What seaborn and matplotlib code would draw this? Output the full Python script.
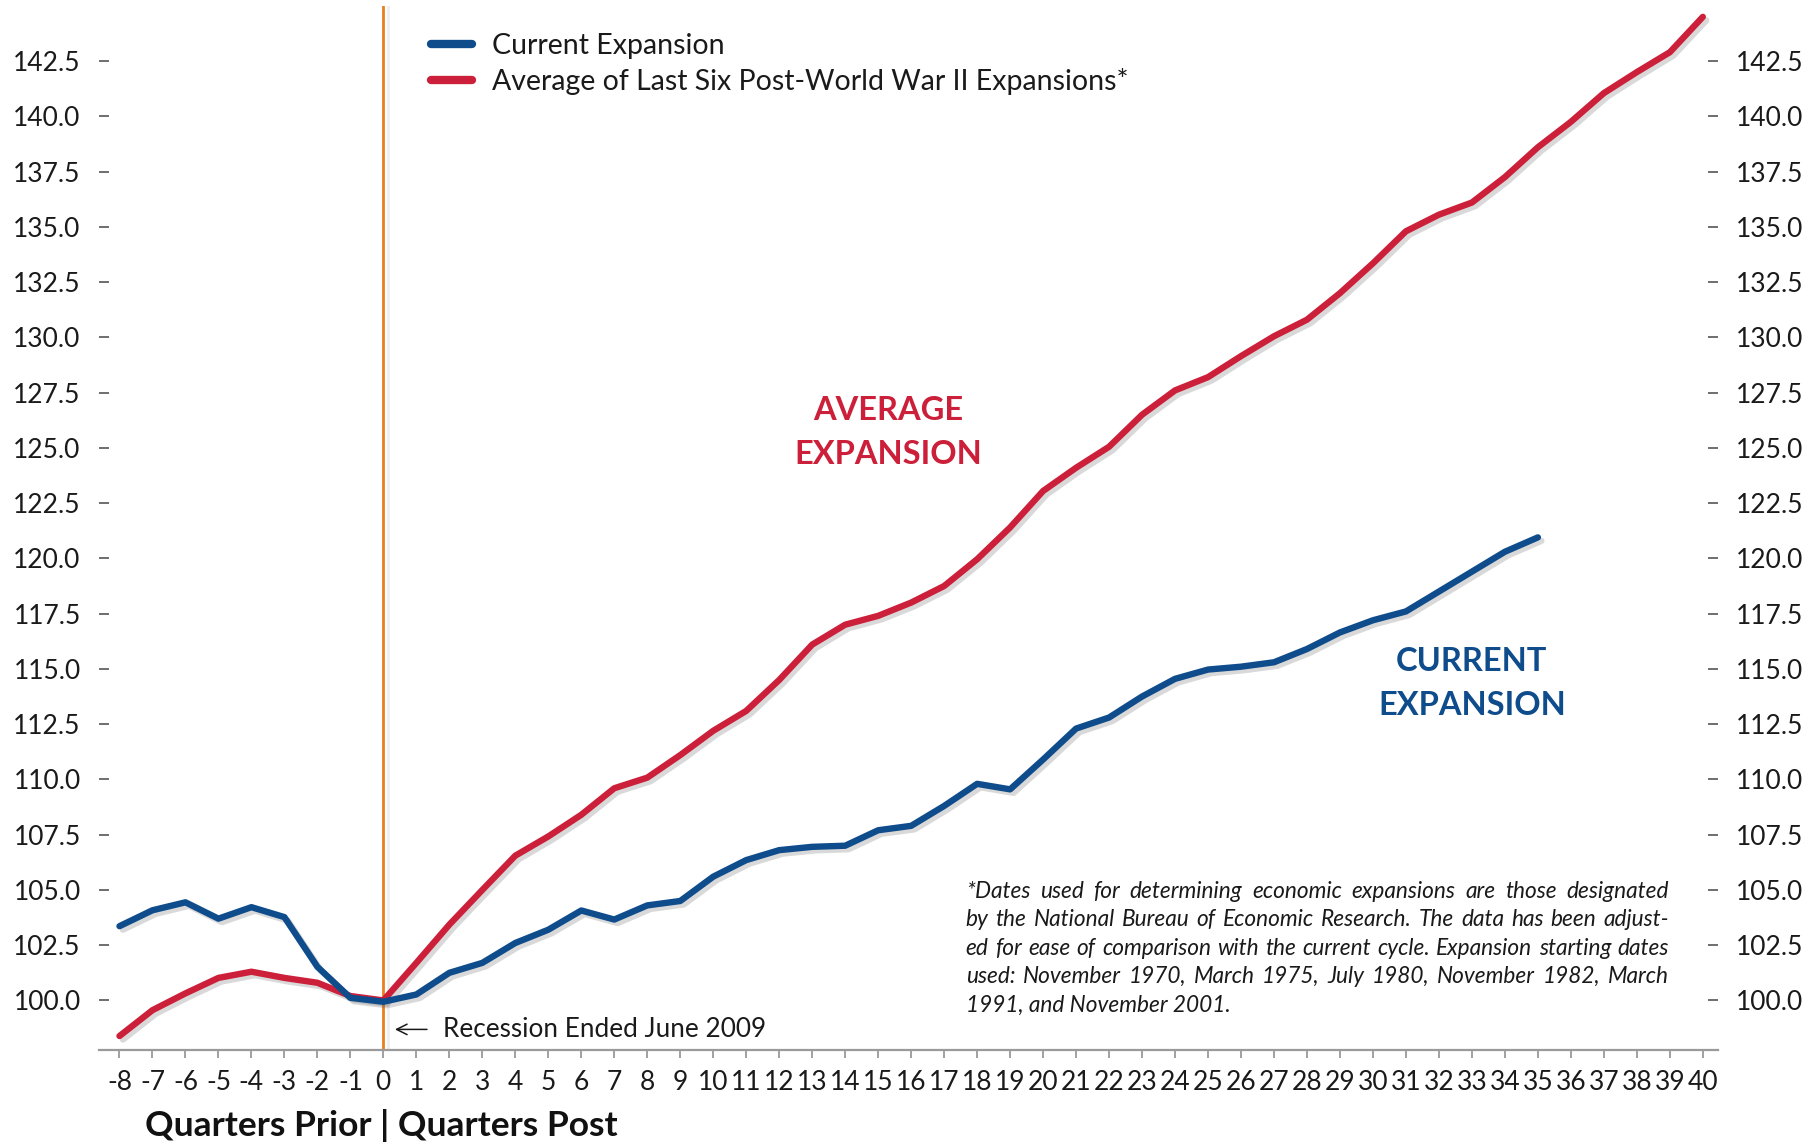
import matplotlib
matplotlib.use("Agg")
import matplotlib.pyplot as plt
import matplotlib.patheffects as pe
from matplotlib.lines import Line2D
import numpy as np
import pandas as pd
import seaborn as sns

# ---- data -------------------------------------------------------------
quarters = list(range(-8, 41))

current_expansion = [
    103.36, 104.08, 104.44, 103.70, 104.22, 103.77, 101.52, 100.12,   # -8 .. -1
    99.94, 100.27, 101.25, 101.70, 102.60, 103.20, 104.07, 103.66,    # 0 .. 7
    104.30, 104.50, 105.60, 106.35, 106.80, 106.95, 107.00, 107.70,   # 8 .. 15
    107.90, 108.80, 109.80, 109.55, 110.90, 112.30, 112.80, 113.75,   # 16 .. 23
    114.55, 114.97, 115.10, 115.30, 115.90, 116.65, 117.20, 117.60,   # 24 .. 31
    118.50, 119.40, 120.30, 120.95,                                   # 32 .. 35
]

average_expansion = [
    98.39, 99.56, 100.32, 101.02, 101.30, 101.02, 100.80, 100.20,     # -8 .. -1
    100.00, 101.70, 103.43, 105.00, 106.55, 107.42, 108.40, 109.60,   # 0 .. 7
    110.08, 111.10, 112.20, 113.10, 114.50, 116.10, 117.00, 117.40,   # 8 .. 15
    118.00, 118.75, 119.96, 121.40, 123.05, 124.10, 125.05, 126.50,   # 16 .. 23
    127.60, 128.20, 129.15, 130.05, 130.80, 132.00, 133.35, 134.80,   # 24 .. 31
    135.55, 136.10, 137.25, 138.60, 139.75, 141.05, 142.00, 142.90,   # 32 .. 39
    144.50,                                                           # 40
]

series_names = ["Current Expansion",
                "Average of Last Six Post-World War II Expansions*"]
y_ticks = [100.0, 102.5, 105.0, 107.5, 110.0, 112.5, 115.0, 117.5, 120.0,
           122.5, 125.0, 127.5, 130.0, 132.5, 135.0, 137.5, 140.0, 142.5]

footnote_lines = [
    "*Dates used for determining economic expansions are those designated",
    "by the National Bureau of Economic Research. The data has been adjust-",
    "ed for ease of comparison with the current cycle. Expansion starting dates",
    "used: November 1970, March 1975, July 1980, November 1982, March",
    "1991, and November 2001.",
]

BLUE = "#0f4c8c"
RED = "#cc1f3a"
ORANGE = "#e8801f"

# ---- long-form table ---------------------------------------------------
df = pd.concat([
    pd.DataFrame({"quarter": quarters[:len(current_expansion)],
                  "value": current_expansion, "series": series_names[0]}),
    pd.DataFrame({"quarter": quarters[:len(average_expansion)],
                  "value": average_expansion, "series": series_names[1]}),
], ignore_index=True)

sns.set_theme(style="white")
plt.rcParams["font.family"] = ["Lato", "DejaVu Sans"]

W, H, DPI = 1820, 1144, 100
fig = plt.figure(figsize=(W / DPI, H / DPI), dpi=DPI)
ax = fig.add_axes([98.7 / W, 93.6 / H, (1718 - 98.7) / W, (1144 - 93.6 - 5.8) / H])

shadow = [pe.SimpleLineShadow(offset=(2.5, -2.5), alpha=0.22, shadow_color="#555555"),
          pe.Normal()]

# orange marker for end of recession
ax.axvline(0, color=ORANGE, lw=2.0, zorder=1,
           path_effects=[pe.SimpleLineShadow(offset=(3, 0), alpha=0.12,
                                             shadow_color="#777777"), pe.Normal()])

sns.lineplot(data=df, x="quarter", y="value", hue="series",
             palette={series_names[0]: BLUE, series_names[1]: RED},
             hue_order=series_names[::-1], linewidth=4.6, legend=False,
             ax=ax, zorder=3)
for line in ax.get_lines()[1:]:
    line.set_path_effects(shadow)
    line.set_solid_capstyle("round")
    line.set_solid_joinstyle("round")

ax.set_xlim(-8.63, 40.46)
ax.set_ylim(97.74, 145.0)
ax.set_xticks(quarters)
ax.set_xticklabels([str(q) for q in quarters])
ax.set_yticks(y_ticks)
ax.set_yticklabels([f"{v:.1f}" for v in y_ticks])
ax.set_xlabel("")
ax.set_ylabel("")

for s in ["top", "left", "right"]:
    ax.spines[s].set_visible(False)
ax.spines["bottom"].set_color("#9a9a9a")
ax.spines["bottom"].set_linewidth(1.6)

ax.tick_params(axis="x", bottom=True, direction="out", length=6, width=1.3,
               color="#9a9a9a", labelsize=19, labelcolor="#1a1a1a", pad=8)
ax.tick_params(axis="y", left=True, right=True, labelleft=True, labelright=True,
               direction="in", length=7, width=1.2, color="#555555",
               labelsize=19, labelcolor="#1a1a1a", pad=13)

# legend
handles = [Line2D([0], [0], color=BLUE, lw=6, solid_capstyle="round"),
           Line2D([0], [0], color=RED, lw=6, solid_capstyle="round")]
leg = fig.legend(handles, series_names, loc="upper left",
                 bbox_to_anchor=(431 / W, 1 - 33 / H), frameon=False,
                 fontsize=20.5, handlelength=1.45, handletextpad=0.7,
                 labelspacing=0.3, borderpad=0, borderaxespad=0)
for t in leg.get_texts():
    t.set_color("#1a1a1a")

# in-chart labels
ax.text(15.3, 125.7, "AVERAGE\nEXPANSION", color=RED, fontsize=23.5,
        fontweight="bold", ha="center", va="center", linespacing=1.6)
ax.text(33.0, 114.34, "CURRENT\nEXPANSION", color=BLUE, fontsize=23.5,
        fontweight="bold", ha="center", va="center", linespacing=1.6)

ax.annotate("Recession Ended June 2009", xy=(0.35, 98.69), xytext=(1.8, 98.69),
            fontsize=18.8, color="#1a1a1a", va="center", ha="left",
            arrowprops=dict(arrowstyle="->", color="#1a1a1a", lw=1.1,
                            shrinkA=9, shrinkB=0))

fig.text(145 / W, 1 - 1126 / H, "Quarters Prior | Quarters Post",
         fontsize=25.5, fontweight="bold", color="#111111", ha="left",
         va="center")

# justified footnote block
renderer = fig.canvas.get_renderer()
left_px, right_px = 965.7, 1669.0
line_y = [891.4, 919.3, 948.3, 976.1, 1005.2]
fn_kw = dict(fontsize=16.3, style="italic", color="#1a1a1a", va="center",
             ha="left")
for i, text_line in enumerate(footnote_lines):
    words = text_line.split(" ")
    y = 1 - line_y[i] / H
    if i == len(footnote_lines) - 1:
        fig.text(left_px / W, y, text_line, **fn_kw)
        continue
    objs = [fig.text(0, y, w, **fn_kw) for w in words]
    widths = [o.get_window_extent(renderer).width for o in objs]
    gap = (right_px - left_px - sum(widths)) / (len(words) - 1)
    x = left_px
    for o, wd in zip(objs, widths):
        o.set_x(x / W)
        x += wd + gap

fig.savefig("out.png", dpi=DPI, facecolor="white")
